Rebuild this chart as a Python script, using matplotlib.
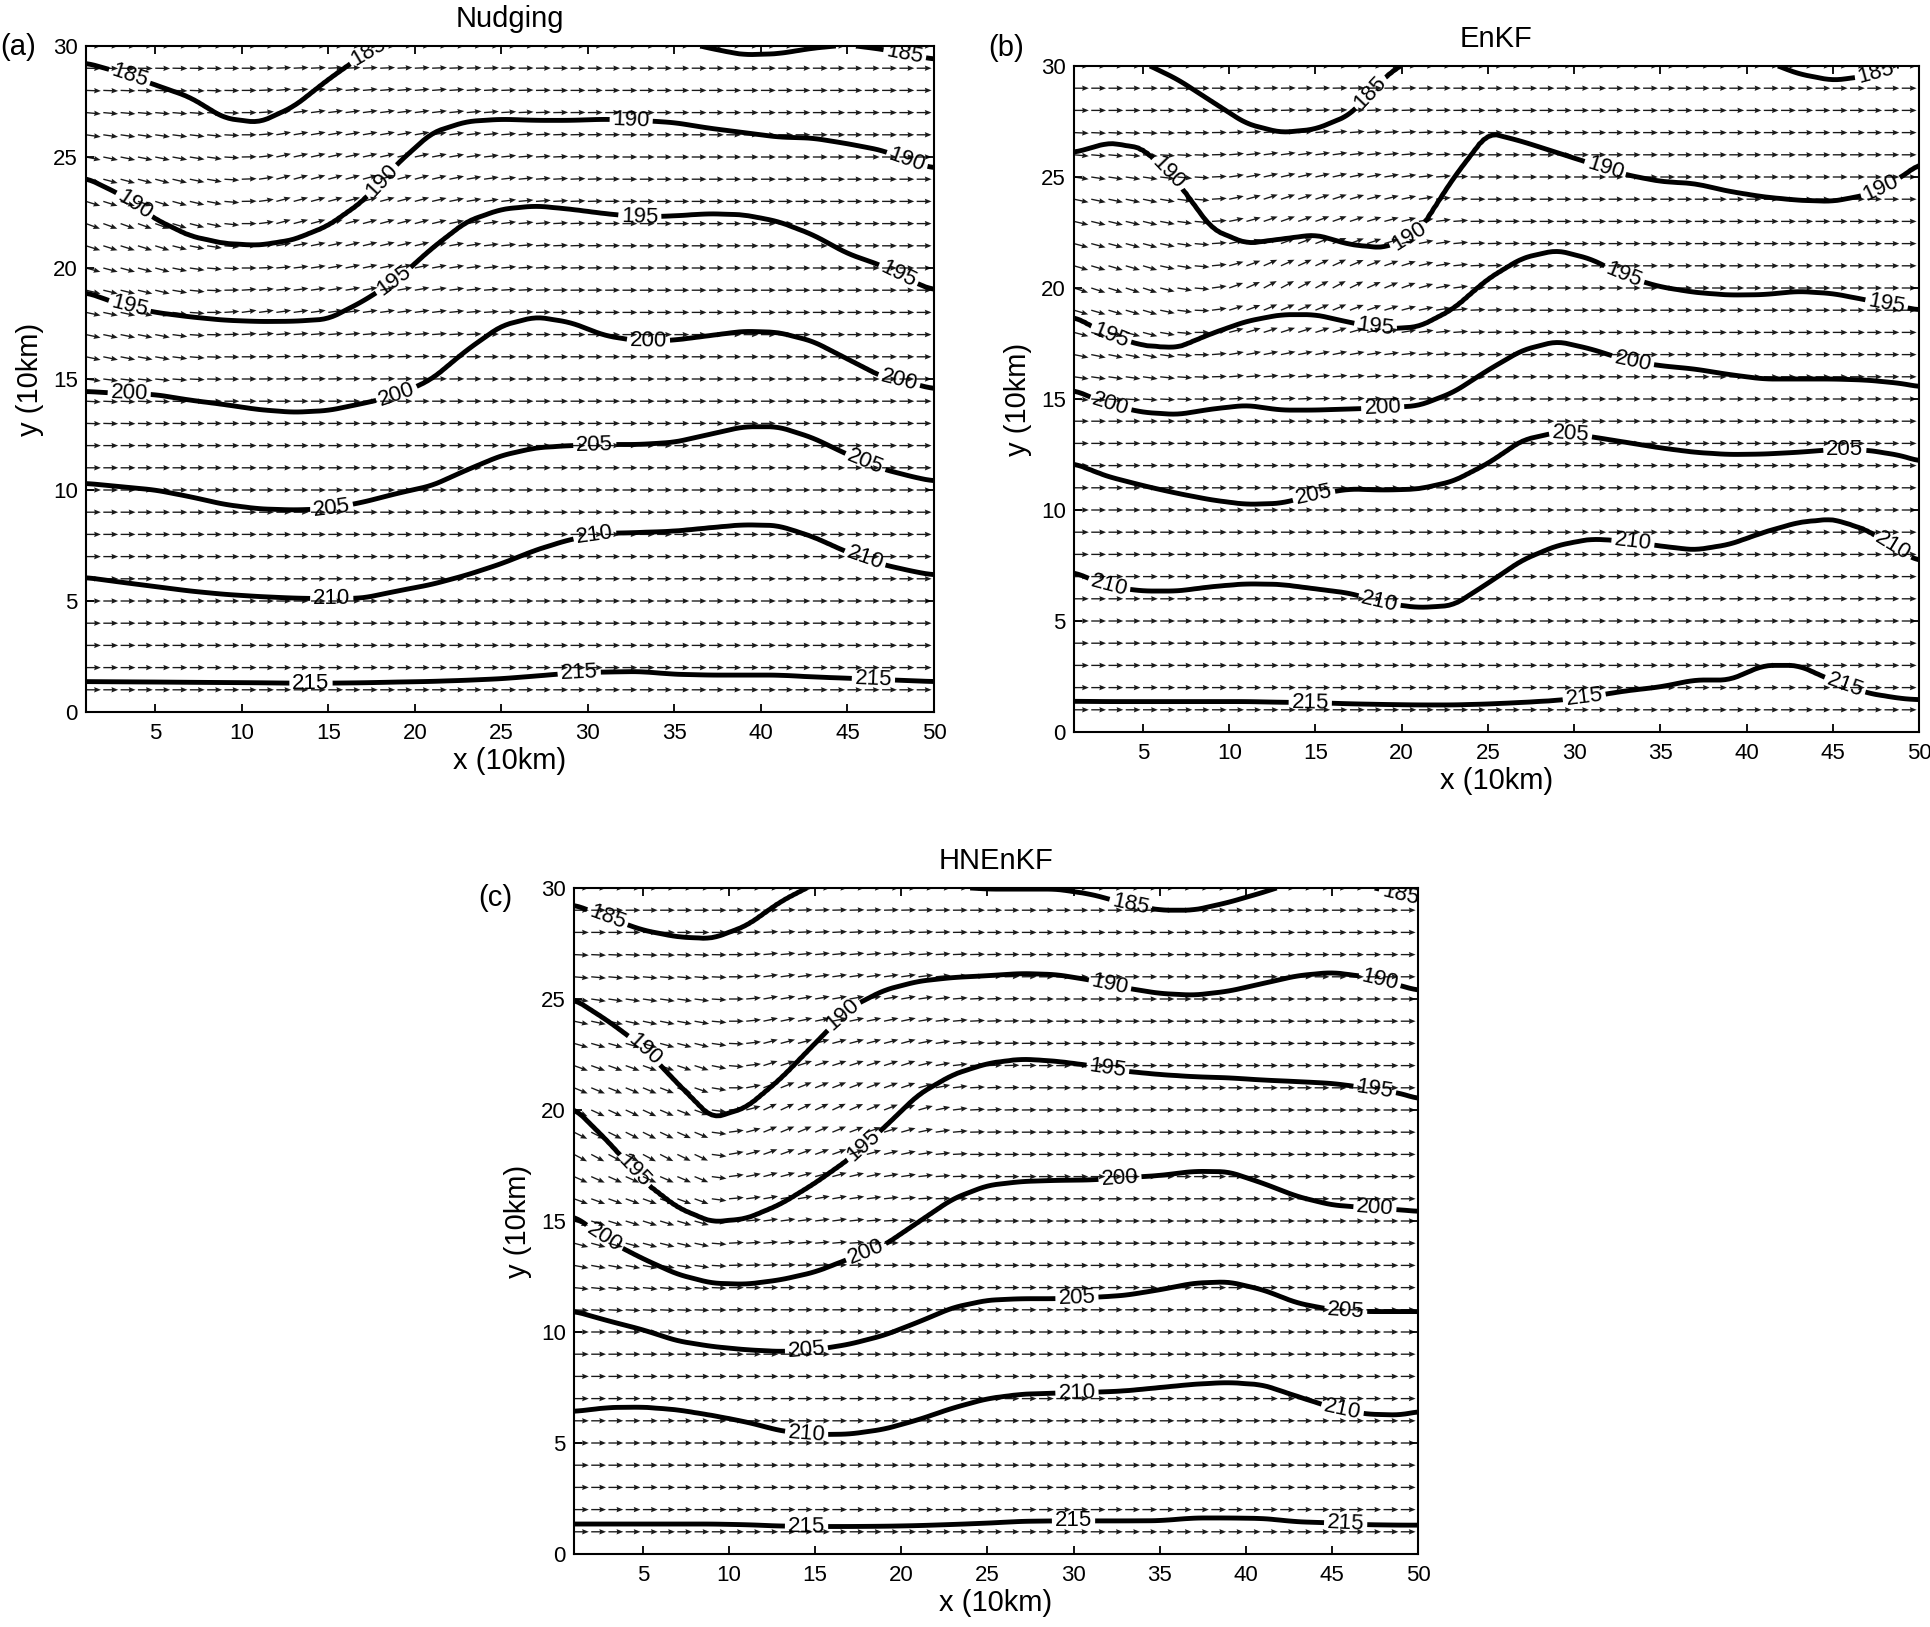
import matplotlib
matplotlib.use('Agg')
import matplotlib.pyplot as plt
import numpy as np

plt.rcParams['font.family'] = ['Liberation Sans', 'DejaVu Sans']

X_KNOTS = [1, 3, 5, 7, 9, 11, 13, 15, 17, 19, 21, 23, 25, 27, 29, 31, 33, 35, 37, 39, 41, 43, 45, 47, 49, 50]
LEVELS = [185, 190, 195, 200, 205, 210, 215]

# (a) Nudging: y (10 km) of each contour at X_KNOTS (values > 30 lie above the frame)
nud_185 = [29.24, 28.8, 28.25, 27.7, 26.75, 26.55, 27.27, 28.5, 29.6, 30.4, 31.0, 31.0, 31.0, 31.0, 31.0, 31.0, 30.8, 30.3, 29.9, 29.6, 29.65, 29.9, 30.05, 29.85, 29.55, 29.4]
nud_190 = [24.06, 23.3, 22.2, 21.44, 21.1, 21.02, 21.27, 21.9, 23.0, 24.7, 26.1, 26.6, 26.7, 26.65, 26.65, 26.7, 26.65, 26.55, 26.3, 26.1, 25.9, 25.85, 25.6, 25.3, 24.7, 24.5]
nud_195 = [18.9, 18.35, 18.0, 17.8, 17.65, 17.59, 17.6, 17.7, 18.5, 19.5, 20.9, 22.1, 22.65, 22.8, 22.65, 22.45, 22.3, 22.35, 22.45, 22.4, 22.1, 21.5, 20.65, 20.1, 19.3, 19.0]
nud_200 = [14.44, 14.35, 14.3, 14.05, 13.85, 13.62, 13.5, 13.58, 13.9, 14.25, 15.0, 16.3, 17.4, 17.8, 17.55, 16.95, 16.7, 16.75, 16.95, 17.15, 17.1, 16.7, 15.9, 15.1, 14.75, 14.55]
nud_205 = [10.3, 10.15, 10.0, 9.7, 9.35, 9.15, 9.1, 9.15, 9.45, 9.85, 10.2, 10.9, 11.55, 11.9, 12.0, 12.05, 12.05, 12.15, 12.5, 12.85, 12.85, 12.35, 11.6, 10.95, 10.55, 10.4]
nud_210 = [6.06, 5.85, 5.65, 5.45, 5.3, 5.2, 5.13, 5.1, 5.13, 5.45, 5.75, 6.17, 6.68, 7.3, 7.78, 8.05, 8.09, 8.15, 8.3, 8.44, 8.4, 7.9, 7.2, 6.65, 6.3, 6.17]
nud_215 = [1.37, 1.36, 1.35, 1.34, 1.33, 1.32, 1.3, 1.3, 1.32, 1.35, 1.38, 1.43, 1.5, 1.62, 1.75, 1.8, 1.82, 1.7, 1.66, 1.66, 1.66, 1.58, 1.52, 1.46, 1.4, 1.37]

# (b) EnKF
enkf_185 = [30.8, 30.5, 30.15, 29.4, 28.4, 27.4, 27.0, 27.15, 27.8, 29.5, 30.6, 31.0, 31.0, 31.0, 31.0, 31.0, 31.0, 31.0, 31.0, 31.0, 30.25, 29.65, 29.35, 29.55, 30.05, 30.3]
enkf_190 = [26.1, 26.55, 26.3, 24.8, 22.65, 22.0, 22.2, 22.4, 21.95, 21.8, 22.5, 24.95, 27.0, 26.6, 26.1, 25.6, 25.1, 24.8, 24.7, 24.35, 24.1, 23.95, 23.9, 24.2, 25.0, 25.6]
enkf_195 = [18.7, 17.85, 17.4, 17.3, 17.95, 18.5, 18.8, 18.8, 18.45, 18.15, 18.25, 19.05, 20.4, 21.35, 21.7, 21.3, 20.5, 20.05, 19.8, 19.68, 19.7, 19.85, 19.75, 19.45, 19.15, 19.0]
enkf_200 = [15.4, 14.75, 14.4, 14.3, 14.55, 14.72, 14.5, 14.5, 14.55, 14.6, 14.7, 15.3, 16.3, 17.2, 17.6, 17.25, 16.75, 16.5, 16.35, 16.1, 15.9, 15.9, 15.9, 15.85, 15.7, 15.55]
enkf_205 = [12.1, 11.5, 11.1, 10.75, 10.45, 10.25, 10.3, 10.7, 10.95, 10.9, 10.95, 11.3, 12.1, 13.15, 13.5, 13.3, 13.05, 12.8, 12.6, 12.5, 12.52, 12.6, 12.72, 12.7, 12.45, 12.2]
enkf_210 = [7.2, 6.55, 6.35, 6.35, 6.55, 6.68, 6.65, 6.45, 6.25, 5.8, 5.6, 5.7, 6.7, 7.75, 8.4, 8.7, 8.6, 8.38, 8.2, 8.45, 9.0, 9.45, 9.6, 9.1, 8.1, 7.7]
enkf_215 = [1.38, 1.37, 1.37, 1.37, 1.37, 1.37, 1.34, 1.32, 1.27, 1.24, 1.22, 1.22, 1.26, 1.33, 1.42, 1.6, 1.85, 2.03, 2.34, 2.34, 3.0, 3.0, 2.3, 1.75, 1.5, 1.45]

# (c) HNEnKF
hn_185 = [29.25, 28.65, 28.1, 27.8, 27.72, 28.3, 29.4, 30.2, 30.8, 30.8, 30.8, 30.05, 29.95, 29.95, 29.95, 29.72, 29.3, 29.0, 29.0, 29.35, 29.8, 30.3, 30.4, 30.1, 29.7, 29.5]
hn_190 = [25.0, 24.0, 22.85, 21.2, 19.62, 20.1, 21.4, 23.0, 24.6, 25.4, 25.8, 25.97, 26.05, 26.15, 26.1, 25.85, 25.5, 25.25, 25.17, 25.35, 25.7, 26.05, 26.2, 26.0, 25.6, 25.38]
hn_195 = [20.1, 18.55, 16.8, 15.6, 14.95, 15.1, 15.75, 16.7, 17.8, 19.2, 20.7, 21.6, 22.1, 22.3, 22.2, 22.0, 21.75, 21.6, 21.5, 21.45, 21.35, 21.28, 21.2, 21.0, 20.75, 20.5]
hn_200 = [15.23, 14.1, 13.3, 12.6, 12.2, 12.15, 12.35, 12.7, 13.3, 13.9, 14.95, 16.0, 16.6, 16.78, 16.83, 16.85, 16.95, 17.05, 17.24, 17.22, 16.7, 16.1, 15.72, 15.6, 15.5, 15.43]
hn_205 = [10.94, 10.5, 10.1, 9.6, 9.35, 9.2, 9.12, 9.2, 9.45, 9.85, 10.45, 11.1, 11.43, 11.5, 11.5, 11.55, 11.65, 11.9, 12.2, 12.26, 11.9, 11.3, 11.0, 10.92, 10.92, 10.92]
hn_210 = [6.42, 6.6, 6.62, 6.5, 6.25, 5.95, 5.55, 5.38, 5.4, 5.62, 6.05, 6.58, 7.0, 7.2, 7.25, 7.28, 7.35, 7.5, 7.65, 7.73, 7.62, 7.1, 6.6, 6.3, 6.26, 6.42]
hn_215 = [1.35, 1.35, 1.35, 1.35, 1.35, 1.32, 1.26, 1.24, 1.24, 1.25, 1.28, 1.33, 1.39, 1.47, 1.49, 1.49, 1.49, 1.5, 1.62, 1.62, 1.6, 1.45, 1.4, 1.32, 1.3, 1.3]

# wind direction (degrees above the x axis) read on a coarse grid
ANG_X = [1, 5, 8, 10, 12, 16, 20, 24, 28, 32, 50]
ANG_Y = [0, 10, 12, 14, 16, 18, 20, 22, 24, 26, 28, 30]
ang_a = [
    [0, 0, 0, 0, 0, 0, 0, 0, 0, 0, 0],
    [0, 0, 0, 0, 0, 0, 0, 0, 0, 0, 0],
    [0, 0, 0, 0, 0, 0, 0, 0, 0, 0, 0],
    [-3, -2, 0, 0, 0, 0, 0, 0, 0, 0, 0],
    [-12, -10, -2, 0, 2, 2, 2, 0, 0, 0, 0],
    [-12, -12, 0, 8, 8, 8, 8, 4, 0, 0, 0],
    [-15, -15, -5, 0, 5, 12, 12, 6, 2, 0, 0],
    [-20, -20, -12, 0, 15, 15, 15, 8, 3, 0, 0],
    [-15, -15, -10, 2, 15, 15, 15, 8, 3, 0, 0],
    [-8, -8, -6, 0, 10, 10, 10, 6, 2, 0, 0],
    [-2, -2, -2, 0, 5, 5, 5, 3, 0, 0, 0],
    [0, 0, 0, 0, 0, 0, 0, 0, 0, 0, 0],
]
ang_b = [
    [0, 0, 0, 0, 0, 0, 0, 0, 0, 0, 0],
    [0, 0, 0, 0, 0, 0, 0, 0, 0, 0, 0],
    [0, 0, 0, 0, 0, 0, 0, 0, 0, 0, 0],
    [0, 0, 0, 0, 0, 0, 0, 0, 0, 0, 0],
    [-8, -8, -2, 5, 5, 5, 3, 0, 0, 0, 0],
    [-15, -15, 0, 15, 18, 18, 10, 2, 0, 0, 0],
    [-18, -18, -5, 20, 28, 28, 20, 3, 0, 0, 0],
    [-15, -15, -5, 12, 20, 22, 15, 2, 0, 0, 0],
    [-12, -12, -5, 12, 18, 18, 12, 0, 0, 0, 0],
    [-5, -5, -2, 5, 8, 8, 5, 0, 0, 0, 0],
    [0, 0, 0, 0, 2, 2, 2, 0, 0, 0, 0],
    [0, 0, 0, 0, 0, 0, 0, 0, 0, 0, 0],
]
ang_c = [
    [0, 0, 0, 0, 0, 0, 0, 0, 0, 0, 0],
    [0, 0, 0, 0, 0, 0, 0, 0, 0, 0, 0],
    [-6, -6, -4, 0, 0, 0, 0, 0, 0, 0, 0],
    [-15, -15, -12, 3, 5, 5, 0, 0, 0, 0, 0],
    [-20, -20, -20, 5, 10, 10, 5, 0, 0, 0, 0],
    [-28, -28, -25, 10, 20, 20, 12, 0, 0, 0, 0],
    [-25, -25, -20, 5, 25, 25, 20, 3, 0, 0, 0],
    [-20, -20, -18, -5, 18, 18, 18, 3, 0, 0, 0],
    [-12, -12, -10, 0, 12, 12, 12, 3, 0, 0, 0],
    [-5, -5, -5, 0, 8, 8, 8, 3, 0, 0, 0],
    [0, 0, 0, 0, 3, 3, 3, 0, 0, 0, 0],
    [0, 0, 0, 0, 0, 0, 0, 0, 0, 0, 0],
]

# where the contour labels sit
lab_a = [(3.5, 28.6), (17.4, 29.6), (48.3, 29.6), (4, 23.1), (18.3, 23.8), (32.5, 26.6), (48.5, 25.0),
         (3.5, 18.2), (19, 19.2), (33, 22.3), (48, 19.8), (3.5, 14.4), (19, 14.2), (33.5, 16.7), (48, 15.0),
         (15.2, 9.17), (30.4, 12.0), (46, 11.2), (15.2, 5.1), (30.4, 7.95), (46, 6.9),
         (14, 1.3), (29.5, 1.75), (46.5, 1.5)]
lab_b = [(18.7, 28.5), (47.5, 29.7), (6.5, 25.2), (20.5, 22.2), (31.8, 25.4), (47.8, 24.5),
         (3.1, 17.8), (18.5, 18.3), (32.9, 20.6), (48.1, 19.2), (3.1, 14.7), (18.9, 14.6), (33.4, 16.7),
         (14.9, 10.7), (29.8, 13.45), (45.7, 12.75), (3, 6.5), (18.7, 5.85), (33.4, 8.45), (48.5, 8.4),
         (14.7, 1.33), (30.6, 1.5), (45.7, 2.1)]
lab_c = [(2.9, 28.6), (33.3, 29.2), (49, 29.8), (5.1, 22.7), (16.7, 24.2), (32.1, 25.6), (47.8, 25.9),
         (4.4, 17.2), (17.8, 18.4), (32, 21.9), (47.5, 21.0), (2.7, 14.2), (18, 13.5), (32.7, 16.9), (47.5, 15.6),
         (14.5, 9.15), (30.2, 11.5), (45.8, 10.95), (14.5, 5.4), (30.2, 7.27), (45.6, 6.45),
         (14.5, 1.24), (30, 1.49), (45.8, 1.38)]

xf = np.linspace(1, 50, 197)
yf = np.linspace(0, 30, 601)


def build_field(lines):
    # contour heights along x, lightly smoothed
    ys = np.array([np.interp(xf, X_KNOTS, l) for l in lines])
    kern = np.ones(5) / 5
    ys = np.array([np.convolve(np.pad(r, 2, mode='edge'), kern, mode='valid') for r in ys])
    lev = np.array(LEVELS, dtype=float)
    F = np.empty((yf.size, xf.size))
    for j in range(xf.size):
        col = ys[::-1, j]
        yp = np.r_[col[0] - 5, col, col[-1] + 5]
        fp = np.r_[lev[-1] + 5, lev[::-1], lev[0] - 5]
        F[:, j] = np.interp(yf, yp, fp)
    return F


def grid_angles(table, qx, qy):
    t = np.array(table, dtype=float)
    rows = np.array([np.interp(qx, ANG_X, r) for r in t])
    return np.array([np.interp(qy, ANG_Y, rows[:, j]) for j in range(qx.size)]).T


fig = plt.figure(figsize=(19.31, 16.27), dpi=100)
W, H = 1931.0, 1627.0

panels = [
    ('Nudging', '(a)', [nud_185, nud_190, nud_195, nud_200, nud_205, nud_210, nud_215], ang_a, lab_a,
     (86, 712, 848), (0, 47)),
    ('EnKF', '(b)', [enkf_185, enkf_190, enkf_195, enkf_200, enkf_205, enkf_210, enkf_215], ang_b, lab_b,
     (1074, 732, 845), (988, 48)),
    ('HNEnKF', '(c)', [hn_185, hn_190, hn_195, hn_200, hn_205, hn_210, hn_215], ang_c, lab_c,
     (574, 1554, 844), (478, 898)),
]

qx = np.arange(1, 51, dtype=float)
qy = np.arange(1, 31, dtype=float)
QX, QY = np.meshgrid(qx, qy)

for title, tag, lines, ang, labpos, (left, bottom, width), (tx, ty) in panels:
    ax = fig.add_axes([left / W, 1 - bottom / H, width / W, 666 / H])
    F = build_field(lines)

    A = grid_angles(ang, qx, qy)
    ax.quiver(QX, QY, np.full(QX.shape, 0.86), np.zeros(QX.shape), angles=A,
              scale_units='x', scale=1, width=0.0016, headwidth=4, headlength=5,
              headaxislength=4.5, color='#1a1a1a', zorder=1)

    cs = ax.contour(xf, yf, F, levels=LEVELS, colors='k', linewidths=3.5, zorder=2)
    ax.clabel(cs, manual=labpos, inline=True, fmt='%d', fontsize=16, inline_spacing=3)

    ax.set_xlim(1, 50)
    ax.set_ylim(0, 30)
    ax.set_xticks(range(5, 51, 5))
    ax.set_yticks(range(0, 31, 5))
    ax.tick_params(direction='in', top=True, right=True, length=6, width=1.3, labelsize=16)
    ax.tick_params(axis='x', pad=8)
    ax.tick_params(axis='y', pad=6)
    for s in ax.spines.values():
        s.set_linewidth(1.5)
    ax.set_title(title, fontsize=21, pad=14)
    ax.set_xlabel('x (10km)', fontsize=21, labelpad=2)
    ax.set_ylabel('y (10km)', fontsize=21, labelpad=6)
    fig.text(tx / W, 1 - ty / H, tag, fontsize=21, ha='left', va='center')

fig.savefig('out.png', dpi=100)
